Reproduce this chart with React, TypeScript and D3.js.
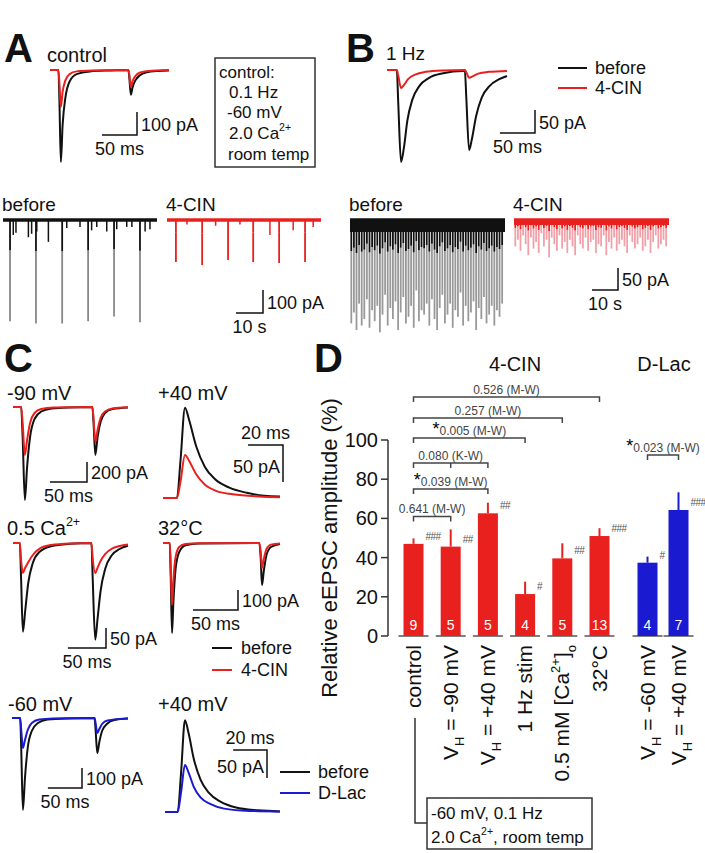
import React from "react";
import * as d3 from "d3";

// ---------- panel D: relative eEPSC amplitude (%) ----------
const cinGroups = ["control", "vh90", "vh40", "hz1", "ca05", "t32"];
const cinMeans = [47, 45.6, 62.6, 21.4, 39.6, 51];
const cinSem = [2.8, 8.8, 5.4, 6.3, 7.7, 4];
const cinN = [9, 5, 5, 4, 5, 13];
const cinSig = ["###", "##", "##", "#", "##", "###"];

const lacGroups = ["lac60", "lac40"];
const lacMeans = [37.4, 64.3];
const lacSem = [3.1, 9];
const lacN = [4, 7];
const lacSig = ["#", "###"];

const yTicks = [0, 20, 40, 60, 80, 100];

// rotated category labels: [text, "sub" | "sup" | ""]
const catLabels: Record<string, [string, string][]> = {
  control: [["control", ""]],
  vh90: [["V", ""], ["H", "sub"], [" = -90 mV", ""]],
  vh40: [["V", ""], ["H", "sub"], [" = +40 mV", ""]],
  hz1: [["1 Hz stim", ""]],
  ca05: [["0.5 mM [Ca", ""], ["2+", "sup"], ["]", ""], ["o", "sub"]],
  t32: [["32°C", ""]],
  lac60: [["V", ""], ["H", "sub"], [" = -60 mV", ""]],
  lac40: [["V", ""], ["H", "sub"], [" = +40 mV", ""]],
};

const comparisons = [
  { from: "control", to: "vh90", mid: "", label: "0.641 (M-W)", star: false, level: 61 },
  { from: "control", to: "vh40", mid: "", label: "0.039 (M-W)", star: true, level: 75 },
  { from: "control", to: "vh40", mid: "vh90", label: "0.080 (K-W)", star: false, level: 88.3 },
  { from: "control", to: "hz1", mid: "", label: "0.005 (M-W)", star: true, level: 101 },
  { from: "control", to: "ca05", mid: "", label: "0.257 (M-W)", star: false, level: 111.2 },
  { from: "control", to: "t32", mid: "", label: "0.526 (M-W)", star: false, level: 122 },
];
const lacComparison = { from: "lac60", to: "lac40", label: "0.023 (M-W)", star: true, level: 92.3 };

// ---------- traces [ms, pA] ----------
const aBefore = [[0, 0], [12, 0], [13.5, -140], [15.5, -400], [18, -240], [22, -120], [28, -50], [38, -18], [57, -6], [85, -2], [112, 0], [113.5, -40], [115.5, -108], [118, -75], [122, -45], [128, -24], [138, -10], [155, -4], [170, -2]];
const aCin = [[0, 0], [12, 0], [13.5, -60], [15.5, -160], [18, -95], [22, -45], [28, -18], [38, -6], [60, -2], [112, 0], [113.5, -25], [115.5, -74], [118, -48], [122, -26], [128, -12], [140, -4], [170, 0]];

const bBefore = [[0, 0], [14, 0], [16, -70], [20, -200], [24, -170], [29, -110], [36, -65], [46, -35], [60, -17], [80, -7], [108, -2], [111, -2], [113, -60], [117, -174], [121, -150], [127, -100], [135, -60], [146, -35], [160, -20], [171, -13]];
const bCin = [[0, 0], [14, 0], [16, -12], [20, -39], [24, -33], [30, -20], [40, -10], [55, -4], [80, -1], [111, 0], [113, -5], [117, -17], [122, -14], [130, -8], [145, -4], [171, -2]];

const c90Before = [[0, 0], [11, 0], [13, -300], [16, -930], [19, -600], [23, -300], [29, -120], [38, -45], [52, -15], [75, -4], [107, 0], [108.5, -150], [111, -480], [114, -300], [118, -150], [124, -60], [134, -20], [155, -4]];
const c90Cin = [[0, 0], [11, 0], [13, -160], [16, -480], [19, -330], [23, -160], [29, -60], [38, -20], [55, -6], [107, 0], [108.5, -110], [111, -350], [114, -230], [118, -110], [124, -45], [134, -15], [155, -3]];

const c40Before = [[0, 0], [8, 0], [10, 50], [12.6, 122], [15, 105], [19, 70], [24, 42], [30, 25], [38, 14], [48, 7], [58, 3], [67, 2]];
const c40Cin = [[0, 0], [8, 0], [10, 22], [12.6, 58], [15, 50], [19, 32], [24, 18], [30, 10], [40, 5], [55, 2], [67, 1]];

const caBefore = [[0, 0], [9, 0], [10.5, -80], [13, -222], [16, -170], [20, -100], [26, -50], [35, -22], [50, -8], [75, -2], [103, 0], [104.5, -80], [108, -242], [111, -190], [115, -120], [121, -65], [130, -30], [140, -15], [151, -7]];
const caCin = [[0, 0], [9, 0], [10.5, -40], [13, -75], [16, -62], [20, -48], [26, -30], [35, -14], [50, -5], [75, -1], [103, 0], [104.5, -35], [108, -75], [111, -62], [115, -45], [121, -28], [130, -14], [151, -4]];

const t32Before = [[0, 0], [7.5, 0], [8.5, -150], [10, -450], [11.5, -300], [14, -130], [18, -45], [25, -12], [40, -3], [107, 0], [108.5, -70], [110, -210], [112, -140], [115, -60], [120, -20], [130, -5]];
const t32Cin = [[0, 0], [7.5, 0], [8.5, -110], [10, -310], [11.5, -190], [14, -70], [18, -20], [25, -5], [40, -1], [107, 0], [108.5, -40], [110, -125], [112, -80], [115, -30], [120, -8], [130, -2]];

const l60Before = [[0, 0], [12, 0], [13.5, -150], [16, -460], [19, -300], [23, -150], [29, -65], [38, -25], [52, -8], [80, -2], [121, 0], [122.5, -60], [125, -175], [128, -120], [132, -65], [139, -30], [150, -10], [170, -3]];
const l60Lac = [[0, 0], [12, 0], [13.5, -60], [16, -150], [19, -110], [23, -60], [29, -25], [40, -8], [60, -2], [121, 0], [122.5, -25], [125, -75], [128, -55], [132, -30], [140, -12], [170, -2]];

const l40Before = [[0, 0], [7.5, 0], [9.5, 70], [11.8, 164], [14, 140], [17, 95], [21, 58], [26, 34], [33, 18], [42, 8], [55, 3], [68, 1]];
const l40Lac = [[0, 0], [7.5, 0], [9.5, 35], [11.8, 84], [14, 70], [17, 45], [21, 26], [27, 14], [35, 6], [50, 2], [68, 1]];

// ---------- long recordings [s, pA] ----------
const longABeforeEvoked = [[2.6, 440], [12.2, 450], [21.9, 450], [31.5, 440], [41.1, 420], [50.7, 445]];
const longABeforeSpont = [[3.8, 65], [4.8, 55], [9.4, 75], [10.6, 60], [12.5, 50], [16.8, 95], [23.6, 35], [28.5, 30], [32.8, 45], [34.7, 30], [38.4, 50], [42.1, 40], [45.8, 30], [47.7, 30], [52.6, 50], [54.4, 40]];
const longACinEvoked = [[3.3, 183], [13, 196], [22.6, 174], [31.9, 183], [41.5, 187], [51.1, 183]];
const longACinSpont = [[7.4, 20], [18, 25], [27, 20], [38.1, 65], [46.7, 45], [54.1, 30]];

// 1 Hz trains, one amplitude (pA) per stimulus
const longBBefore = [235, 210, 250, 190, 240, 225, 180, 245, 205, 230, 195, 255, 215, 170, 240, 200, 225, 185, 250, 210, 175, 235, 220, 195, 245, 160, 230, 205, 215, 190, 240, 180, 225, 250, 200, 170, 235, 215, 190, 245, 205, 220, 165, 240, 195, 230, 210, 185, 250, 200, 225, 175, 235, 215, 195, 240, 205, 220, 190];
const longBCin = [60, 45, 70, 35, 55, 80, 40, 65, 50, 75, 30, 60, 45, 85, 40, 55, 70, 35, 65, 50, 75, 45, 60, 80, 35, 55, 65, 40, 70, 50, 45, 75, 55, 60, 35, 80, 50, 65, 40, 70, 55, 45, 60, 75, 35, 50, 65, 55, 40, 70, 60, 45, 75, 50, 35, 65, 55, 45, 60];

const RED = "#e8201e";
const BLUE = "#1a1ad0";
const FONT = "'Liberation Sans', Arial, sans-serif";

const lin = (d: number[], r: number[]) => d3.scaleLinear().domain(d).range(r);

function Trace({ data, x, y, color }: any) {
  const path = d3.line<number[]>().x((d) => x(d[0])).y((d) => y(d[1])).curve(d3.curveMonotoneX)(data);
  return <path d={path || ""} fill="none" stroke={color} strokeWidth={2} strokeLinejoin="round" />;
}

function ScaleBar({ cx, cy, x, y, ms, pA, tLabel, aLabel, inverted }: any) {
  const w = x(ms) - x(0);
  const h = Math.abs(y(pA) - y(0));
  if (inverted) {
    return (
      <g>
        <path d={`M${cx - w},${cy}H${cx}V${cy + h}`} fill="none" stroke="#111" strokeWidth={1.5} />
        <text x={cx - w / 2} y={cy - 6} textAnchor="middle" fontSize={18}>{tLabel}</text>
        <text x={cx - 3} y={cy + h / 2 + 9} textAnchor="end" fontSize={18}>{aLabel}</text>
      </g>
    );
  }
  return (
    <g>
      <path d={`M${cx - w},${cy}H${cx}V${cy - h}`} fill="none" stroke="#111" strokeWidth={1.5} />
      <text x={cx + 4} y={cy - h / 2 + 7} fontSize={18}>{aLabel}</text>
      <text x={cx - w / 2} y={cy + 20} textAnchor="middle" fontSize={18}>{tLabel}</text>
    </g>
  );
}

function LongTrace({ evoked, spont, x, y, dark, light }: any) {
  const y0 = y(0);
  return (
    <g>
      {evoked.map((e: number[], i: number) => {
        const yb = y(-e[1]);
        const mid = y0 + (yb - y0) * 0.3;
        return (
          <g key={i}>
            <line x1={x(e[0])} x2={x(e[0])} y1={mid} y2={yb} stroke={light} strokeWidth={1.8} />
            <line x1={x(e[0])} x2={x(e[0])} y1={y0} y2={mid} stroke={dark} strokeWidth={1.8} />
          </g>
        );
      })}
      {spont.map((e: number[], i: number) => (
        <line key={"s" + i} x1={x(e[0])} x2={x(e[0])} y1={y0} y2={y(-e[1])} stroke={dark} strokeWidth={1.5} />
      ))}
      <line x1={x.range()[0]} x2={x.range()[1]} y1={y0} y2={y0} stroke={dark} strokeWidth={3.5} />
    </g>
  );
}

function Rich({ parts, x, y, fontSize, transform, anchor, fill }: any) {
  let shift = 0;
  return (
    <text x={x} y={y} fontSize={fontSize} transform={transform} textAnchor={anchor} fill={fill}>
      {parts.map((p: string[], i: number) => {
        const target = p[1] === "sub" ? fontSize * 0.3 : p[1] === "sup" ? -fontSize * 0.45 : 0;
        const dy = target - shift;
        shift = target;
        return (
          <tspan key={i} dy={dy} fontSize={p[1] ? fontSize * 0.62 : fontSize}>{p[0]}</tspan>
        );
      })}
    </text>
  );
}

function PanelD() {
  const y = lin([0, 100], [636, 440]);
  const xc = d3.scalePoint().domain(cinGroups).range([413.5, 599.5]);
  const xl = d3.scalePoint().domain(lacGroups).range([647.5, 678.5]);
  const bw = 20;
  const axisX = 388;

  const bars = [
    ...cinGroups.map((g, i) => ({ g, x: xc(g)!, m: cinMeans[i], s: cinSem[i], n: cinN[i], sig: cinSig[i], c: RED })),
    ...lacGroups.map((g, i) => ({ g, x: xl(g)!, m: lacMeans[i], s: lacSem[i], n: lacN[i], sig: lacSig[i], c: BLUE })),
  ];

  const bracket = (x1: number, x2: number, lev: number, label: string, star: boolean, mid: number | null, key: string) => {
    const yy = y(lev);
    return (
      <g key={key}>
        <path d={`M${x1},${yy + 5}V${yy}H${x2}V${yy + 5}`} fill="none" stroke="#444" strokeWidth={1.5} />
        {mid !== null && <line x1={mid} x2={mid} y1={yy} y2={yy + 5} stroke="#444" strokeWidth={1.5} />}
        <text x={(x1 + x2) / 2} y={yy - 3} textAnchor="middle" fontSize={12} fill="#444">
          {star && <tspan fontSize={18} fill="#000">*</tspan>}
          {label}
        </text>
      </g>
    );
  };

  return (
    <g>
      <text x={314} y={372} fontSize={40} fontWeight="bold">D</text>
      <text x={515} y={371} fontSize={20} textAnchor="middle">4-CIN</text>
      <text x={664} y={371} fontSize={20} textAnchor="middle">D-Lac</text>
      <text transform="translate(337,548) rotate(-90)" textAnchor="middle" fontSize={22}>
        Relative eEPSC amplitude (%)
      </text>
      {/* y axis */}
      <line x1={axisX} x2={axisX} y1={y(0)} y2={y(100)} stroke="#333" strokeWidth={1.5} />
      {yTicks.map((t) => (
        <g key={t}>
          <line x1={axisX - 7} x2={axisX} y1={y(t)} y2={y(t)} stroke="#333" strokeWidth={1.5} />
          <text x={axisX - 10} y={y(t) + 7} textAnchor="end" fontSize={20}>{t}</text>
        </g>
      ))}
      {comparisons.map((c, i) =>
        bracket(xc(c.from)!, xc(c.to)!, c.level, c.label, c.star, c.mid ? xc(c.mid)! : null, "c" + i)
      )}
      {bracket(xl(lacComparison.from)!, xl(lacComparison.to)!, lacComparison.level, lacComparison.label, lacComparison.star, null, "lac")}
      {bars.map((b) => (
        <g key={b.g}>
          <line x1={b.x - 15} x2={b.x + 15} y1={y(0)} y2={y(0)} stroke="#555" strokeWidth={1.5} />
          <rect x={b.x - bw / 2} y={y(b.m)} width={bw} height={y(0) - y(b.m)} fill={b.c} />
          <line x1={b.x} x2={b.x} y1={y(b.m)} y2={y(b.m + b.s)} stroke={b.c} strokeWidth={2} />
          <text x={b.x + bw / 2 + 2} y={y(b.m) - 4} fontSize={10} fill="#555" letterSpacing={-0.5}>{b.sig}</text>
          <text x={b.x} y={y(0) - 6} textAnchor="middle" fontSize={14} fill="#fff">{b.n}</text>
          <Rich parts={catLabels[b.g]} x={0} y={0} fontSize={21} anchor="end"
            transform={`translate(${b.x + 7},645) rotate(-90)`} />
        </g>
      ))}
      {/* conditions box */}
      <path d="M415,718V823H427" fill="none" stroke="#333" strokeWidth={1.5} />
      <rect x={427} y={798} width={165} height={51} fill="none" stroke="#333" strokeWidth={1.5} />
      <text x={431} y={819} fontSize={17}>-60 mV, 0.1 Hz</text>
      <Rich parts={[["2.0 Ca", ""], ["2+", "sup"], [", room temp", ""]]} x={431} y={843} fontSize={17} />
    </g>
  );
}

export default function App() {
  // panel A/B example traces
  const axA = lin([0, 170], [50, 169]);
  const ayA = lin([0, -100], [70, 93]);
  const axB = lin([0, 171], [387, 507]);
  const ayB = lin([0, -50], [70, 93]);
  // long recordings
  const lxA1 = lin([0, 57], [3, 157]);
  const lxA2 = lin([0, 57], [167, 321]);
  const lyA = lin([0, -100], [220, 243]);
  const lxB1 = lin([0, 59.6], [350, 505]);
  const lxB2 = lin([0, 59.6], [514, 669]);
  const lyB = lin([0, -50], [220, 242]);
  // panel C
  const x90 = lin([0, 155], [13, 128]);
  const y90 = lin([0, -200], [407, 427]);
  const x40 = lin([0, 67], [163, 280]);
  const y40 = lin([0, 50], [498, 461]);
  const xCa = lin([0, 151], [13, 128]);
  const yCa = lin([0, -50], [543, 563]);
  const x32 = lin([0, 130], [163, 280]);
  const y32 = lin([0, -100], [543, 563]);
  const x60 = lin([0, 170], [12, 128]);
  const y60 = lin([0, -100], [718, 738]);
  const xl40 = lin([0, 68], [165, 280]);
  const yl40 = lin([0, 50], [812, 784]);

  const bEv = longBBefore.map((a, i) => [i + 0.5, a]);
  const bCinEv = longBCin.map((a, i) => [i + 0.5, a]);

  return (
    <svg width={705} height={853} style={{ position: "absolute", left: 0, top: 0, background: "#fff" }}
      fontFamily={FONT} fill="#111">
      {/* ---- A ---- */}
      <text x={4} y={62} fontSize={40} fontWeight="bold">A</text>
      <text x={47} y={62} fontSize={20}>control</text>
      <Trace data={aBefore} x={axA} y={ayA} color="#111" />
      <Trace data={aCin} x={axA} y={ayA} color={RED} />
      <ScaleBar cx={137} cy={135} x={axA} y={ayA} ms={50} pA={-100} tLabel="50 ms" aLabel="100 pA" />
      <rect x={215} y={58} width={100} height={109} fill="none" stroke="#333" strokeWidth={1.5} />
      <text x={219} y={78} fontSize={17}>control:</text>
      <text x={229} y={98} fontSize={17}>0.1 Hz</text>
      <text x={227} y={118} fontSize={17}>-60 mV</text>
      <Rich parts={[["2.0 Ca", ""], ["2+", "sup"]]} x={229} y={139} fontSize={17} />
      <text x={228} y={160} fontSize={17}>room temp</text>

      {/* ---- B ---- */}
      <text x={346} y={62} fontSize={40} fontWeight="bold">B</text>
      <text x={386} y={60} fontSize={19}>1 Hz</text>
      <Trace data={bBefore} x={axB} y={ayB} color="#111" />
      <Trace data={bCin} x={axB} y={ayB} color={RED} />
      <ScaleBar cx={535} cy={133} x={axB} y={ayB} ms={50} pA={-50} tLabel="50 ms" aLabel="50 pA" />
      <line x1={558} x2={587} y1={68} y2={68} stroke="#111" strokeWidth={2} />
      <text x={595} y={74} fontSize={18}>before</text>
      <line x1={558} x2={587} y1={88} y2={88} stroke={RED} strokeWidth={2} />
      <text x={595} y={94} fontSize={18}>4-CIN</text>

      {/* ---- long recordings ---- */}
      <text x={2} y={211} fontSize={19}>before</text>
      <text x={166} y={211} fontSize={19}>4-CIN</text>
      <LongTrace evoked={longABeforeEvoked} spont={longABeforeSpont} x={lxA1} y={lyA} dark="#111" light="#888" />
      <LongTrace evoked={longACinEvoked} spont={longACinSpont} x={lxA2} y={lyA} dark={RED} light={RED} />
      <ScaleBar cx={263} cy={313} x={lxA2} y={lyA} ms={10} pA={-100} tLabel="10 s" aLabel="100 pA" />

      <text x={349} y={211} fontSize={19}>before</text>
      <text x={513} y={211} fontSize={19}>4-CIN</text>
      <LongTrace evoked={bEv} spont={[]} x={lxB1} y={lyB} dark="#111" light="#999" />
      <rect x={350} y={219} width={155} height={13} fill="#111" />
      <LongTrace evoked={bCinEv} spont={[]} x={lxB2} y={lyB} dark={RED} light="#f0a0a8" />
      <rect x={514} y={219} width={155} height={6} fill={RED} />
      <ScaleBar cx={618} cy={290} x={lxB2} y={lyB} ms={10} pA={-50} tLabel="10 s" aLabel="50 pA" />

      {/* ---- C ---- */}
      <text x={4} y={372} fontSize={40} fontWeight="bold">C</text>
      <text x={7} y={400} fontSize={20}>-90 mV</text>
      <Trace data={c90Before} x={x90} y={y90} color="#111" />
      <Trace data={c90Cin} x={x90} y={y90} color={RED} />
      <ScaleBar cx={87} cy={482} x={x90} y={y90} ms={50} pA={-200} tLabel="50 ms" aLabel="200 pA" />

      <text x={158} y={400} fontSize={20}>+40 mV</text>
      <Trace data={c40Before} x={x40} y={y40} color="#111" />
      <Trace data={c40Cin} x={x40} y={y40} color={RED} />
      <ScaleBar cx={283} cy={445} x={x40} y={y40} ms={20} pA={50} tLabel="20 ms" aLabel="50 pA" inverted />

      <Rich parts={[["0.5 Ca", ""], ["2+", "sup"]]} x={7} y={535} fontSize={20} />
      <Trace data={caBefore} x={xCa} y={yCa} color="#111" />
      <Trace data={caCin} x={xCa} y={yCa} color={RED} />
      <ScaleBar cx={106} cy={648} x={xCa} y={yCa} ms={50} pA={-50} tLabel="50 ms" aLabel="50 pA" />

      <text x={158} y={535} fontSize={20}>32°C</text>
      <Trace data={t32Before} x={x32} y={y32} color="#111" />
      <Trace data={t32Cin} x={x32} y={y32} color={RED} />
      <ScaleBar cx={238} cy={610} x={x32} y={y32} ms={50} pA={-100} tLabel="50 ms" aLabel="100 pA" />
      <line x1={212} x2={232} y1={648} y2={648} stroke="#111" strokeWidth={2} />
      <text x={241} y={654} fontSize={18}>before</text>
      <line x1={212} x2={232} y1={670} y2={670} stroke={RED} strokeWidth={2} />
      <text x={241} y={676} fontSize={18}>4-CIN</text>

      <text x={8} y={711} fontSize={20}>-60 mV</text>
      <Trace data={l60Before} x={x60} y={y60} color="#111" />
      <Trace data={l60Lac} x={x60} y={y60} color={BLUE} />
      <ScaleBar cx={82} cy={788} x={x60} y={y60} ms={50} pA={-100} tLabel="50 ms" aLabel="100 pA" />

      <text x={158} y={711} fontSize={20}>+40 mV</text>
      <Trace data={l40Before} x={xl40} y={yl40} color="#111" />
      <Trace data={l40Lac} x={xl40} y={yl40} color={BLUE} />
      <ScaleBar cx={267} cy={750} x={xl40} y={yl40} ms={20} pA={50} tLabel="20 ms" aLabel="50 pA" inverted />
      <line x1={280} x2={310} y1={772} y2={772} stroke="#111" strokeWidth={2} />
      <text x={318} y={778} fontSize={18}>before</text>
      <line x1={280} x2={310} y1={793} y2={793} stroke={BLUE} strokeWidth={2} />
      <text x={318} y={799} fontSize={18}>D-Lac</text>

      <PanelD />
    </svg>
  );
}
